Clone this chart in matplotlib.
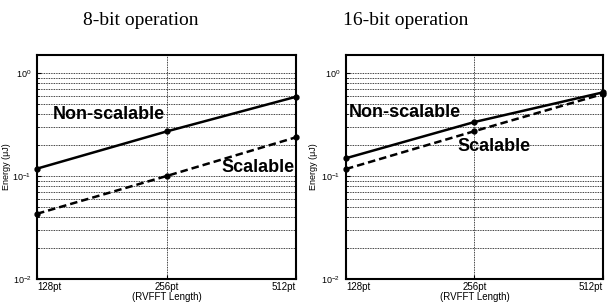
import matplotlib.pyplot as plt
from matplotlib.ticker import LogLocator, NullLocator, FixedLocator

# Donnees
longueurs = [128, 256, 512]
etiquettes_x = ["128pt", "256pt", "512pt"]

non_scalable_8 = [0.118, 0.271, 0.589]
scalable_8 = [0.043, 0.100, 0.238]

non_scalable_16 = [0.149, 0.335, 0.650]
scalable_16 = [0.117, 0.273, 0.627]

titres = ["8-bit operation", "16-bit operation"]

plt.rcParams['font.family'] = ['Liberation Sans', 'DejaVu Sans']

fig = plt.figure(figsize=(6.14, 3.08), dpi=100)

positions = [[0.0603, 0.0942, 0.4218, 0.7273],
             [0.5635, 0.0942, 0.4186, 0.7273]]

# positions (x en fraction d'axe, y en donnees) des etiquettes de courbes
etiquettes = [
    ((0.062, 0.40), (0.995, 0.12)),
    ((0.010, 0.41), (0.435, 0.195)),
]

series = [(non_scalable_8, scalable_8), (non_scalable_16, scalable_16)]
titres_x = [0.230, 0.660]
ylabel_x = [-0.10, -0.11]

for i in range(2):
    ax = fig.add_axes(positions[i])
    ns, sc = series[i]
    ax.plot(longueurs, ns, color="black", linewidth=1.8, marker="o", markersize=3.5,
            clip_on=False, zorder=3)
    ax.plot(longueurs, sc, color="black", linewidth=1.8, linestyle=(0, (3, 1.6)),
            marker="o", markersize=3.5, clip_on=False, zorder=3)

    ax.set_xscale("log", base=2)
    ax.set_yscale("log")
    ax.set_xlim(128, 512)
    ax.set_ylim(0.01, 1.5)

    ax.xaxis.set_major_locator(FixedLocator(longueurs))
    ax.xaxis.set_minor_locator(NullLocator())
    ax.set_xticklabels(etiquettes_x)
    labs = ax.get_xticklabels()
    labs[0].set_ha("left")
    labs[-1].set_ha("right")
    ax.yaxis.set_major_locator(LogLocator(base=10, numticks=5))
    ax.yaxis.set_minor_locator(LogLocator(base=10, subs=range(2, 10), numticks=20))

    ax.tick_params(axis="both", which="both", direction="in", pad=2)
    ax.tick_params(axis="x", labelsize=7)
    ax.tick_params(axis="y", labelsize=6.5, pad=4)
    ax.tick_params(axis="both", which="major", length=3, width=0.8)
    ax.tick_params(axis="y", which="minor", length=1.5, width=0.6)

    ax.grid(True, axis="y", which="both", linestyle=(0, (1, 1)), color="black", linewidth=0.6)
    ax.grid(True, axis="x", which="major", linestyle=(0, (1, 1)), color="black", linewidth=0.6)

    for s in ax.spines.values():
        s.set_linewidth(1.5)

    ax.set_xlabel("(RVFFT Length)", fontsize=7, labelpad=0)
    ax.set_ylabel("Energy (\u03bcJ)", fontsize=6.5)
    ax.yaxis.set_label_coords(ylabel_x[i], 0.5)

    (x1, y1), (x2, y2) = etiquettes[i]
    ax.text(x1, y1, "Non-scalable", transform=ax.get_yaxis_transform(), fontsize=13,
            fontweight="bold", ha="left", va="center", zorder=4)
    ax.text(x2, y2, "Scalable", transform=ax.get_yaxis_transform(), fontsize=13,
            fontweight="bold", ha="right" if i == 0 else "left", va="center", zorder=4)

    fig.text(titres_x[i], 0.935, titres[i], fontsize=14, family="Liberation Serif",
             ha="center", va="center")

fig.savefig("out.png", dpi=100)
